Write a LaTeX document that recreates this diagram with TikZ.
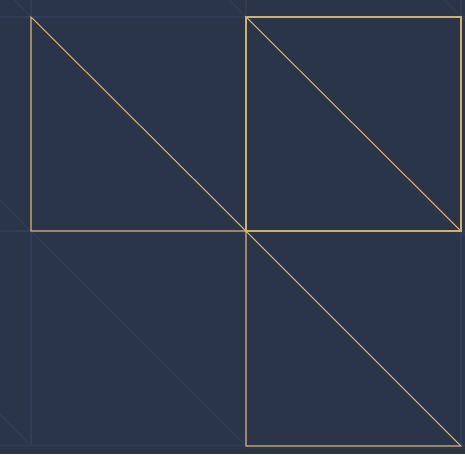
\documentclass[tikz,border=0pt]{standalone}
\usepackage{tikz}
\usetikzlibrary{positioning}
\usepackage{xcolor}
\definecolor{slatenight}{HTML}{2B3549}
\definecolor{gridhaze}{HTML}{303D56}
\definecolor{brass}{HTML}{D4B06A}
\tikzset{
  faintline/.style={draw=gridhaze,line width=0.6pt},
  brassline/.style={draw=brass,line width=0.6pt,line join=miter,line cap=rect}
}

\begin{document}
\begin{tikzpicture}[x=0.02cm,y=-0.02cm]
  \fill[slatenight] (0,0) rectangle (465,454);
  \useasboundingbox (0,0) rectangle (465,454);
  \begin{scope}
    \clip (0,0) rectangle (465,447);
    % faint tile grid with one diagonal per tile
    \foreach \gx in {-184,31,246,461} {
      \foreach \gy in {-198,17,231} {
        \draw[faintline] (\gx,\gy) rectangle ++(215,214.5);
        \draw[faintline] (\gx,\gy) -- ++(215,214.5);
      }
    }
  \end{scope}
  % corner points of the highlighted tiles
  \coordinate (tl) at (31,17);
  \coordinate (tm) at (246,17);
  \coordinate (tr) at (461,17);
  \coordinate (ml) at (31,231);
  \coordinate (mm) at (246,231);
  \coordinate (mr) at (461,231);
  \coordinate (bm) at (246,446);
  \coordinate (br) at (461,446);
  % highlighted tiles
  \draw[brassline] (tl) -- (ml) -- (mm) -- cycle;
  \draw[brassline] (tm) -- (tr) -- (mr) -- (mm) -- cycle;
  \draw[brassline] (tm) -- (mr);
  \draw[brassline] (mm) -- (bm) -- (br) -- cycle;
\end{tikzpicture}
\end{document}
